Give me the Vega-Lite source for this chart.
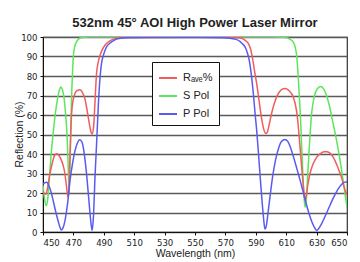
{
  "$schema": "https://vega.github.io/schema/vega-lite/v6.json",
  "autosize": {"type": "none"},
  "padding": {"left": 43, "top": 37, "right": 13, "bottom": 30},
  "width": 304,
  "height": 195,
  "background": "white",
  "title": {
    "text": "532nm 45° AOI High Power Laser Mirror",
    "font": "Liberation Sans",
    "fontSize": 13,
    "fontWeight": "bold",
    "color": "#222",
    "anchor": "middle",
    "baseline": "alphabetic",
    "offset": 12,
    "dy": 20
  },
  "config": {
    "view": {"stroke": "#333", "strokeWidth": 1.2},
    "axis": {
      "labelFont": "Liberation Sans Narrow, DejaVu Sans Condensed, Arial Narrow, sans-serif",
      "labelFontSize": 9.5,
      "labelColor": "#222",
      "titleFont": "Liberation Sans",
      "titleFontSize": 10.5,
      "titleFontWeight": "normal",
      "titleColor": "#222",
      "domainColor": "#111",
      "tickColor": "#111",
      "tickSize": 3
    }
  },
  "data": {
    "values": [
      {"s": "S Pol", "x": 450, "y": 24},
      {"s": "S Pol", "x": 451, "y": 17},
      {"s": "S Pol", "x": 452.2, "y": 13.5},
      {"s": "S Pol", "x": 453.2, "y": 17.5},
      {"s": "S Pol", "x": 454.4, "y": 30},
      {"s": "S Pol", "x": 455.5, "y": 41},
      {"s": "S Pol", "x": 456.6, "y": 50},
      {"s": "S Pol", "x": 458, "y": 60},
      {"s": "S Pol", "x": 459.5, "y": 68},
      {"s": "S Pol", "x": 460.7, "y": 72.5},
      {"s": "S Pol", "x": 461.7, "y": 74.3},
      {"s": "S Pol", "x": 462.7, "y": 73.2},
      {"s": "S Pol", "x": 463.7, "y": 69.5},
      {"s": "S Pol", "x": 464.8, "y": 61},
      {"s": "S Pol", "x": 465.8, "y": 50},
      {"s": "S Pol", "x": 466.5, "y": 36},
      {"s": "S Pol", "x": 467.2, "y": 20},
      {"s": "S Pol", "x": 467.8, "y": 35},
      {"s": "S Pol", "x": 468.3, "y": 52},
      {"s": "S Pol", "x": 468.8, "y": 69},
      {"s": "S Pol", "x": 469.4, "y": 81},
      {"s": "S Pol", "x": 469.9, "y": 89.5},
      {"s": "S Pol", "x": 471, "y": 95.5},
      {"s": "S Pol", "x": 472, "y": 97.5},
      {"s": "S Pol", "x": 473.5, "y": 99},
      {"s": "S Pol", "x": 475.5, "y": 99.8},
      {"s": "S Pol", "x": 480, "y": 100},
      {"s": "S Pol", "x": 520, "y": 100},
      {"s": "S Pol", "x": 560, "y": 100},
      {"s": "S Pol", "x": 600, "y": 100},
      {"s": "S Pol", "x": 608, "y": 99.9},
      {"s": "S Pol", "x": 611, "y": 99.5},
      {"s": "S Pol", "x": 613, "y": 98.6},
      {"s": "S Pol", "x": 614.7, "y": 97.3},
      {"s": "S Pol", "x": 616, "y": 94.5},
      {"s": "S Pol", "x": 617, "y": 89.6},
      {"s": "S Pol", "x": 617.8, "y": 81},
      {"s": "S Pol", "x": 618.7, "y": 69},
      {"s": "S Pol", "x": 619.5, "y": 57},
      {"s": "S Pol", "x": 620.2, "y": 43.5},
      {"s": "S Pol", "x": 621, "y": 29},
      {"s": "S Pol", "x": 621.7, "y": 18},
      {"s": "S Pol", "x": 622.4, "y": 12.7},
      {"s": "S Pol", "x": 623.2, "y": 16},
      {"s": "S Pol", "x": 624.2, "y": 30},
      {"s": "S Pol", "x": 625.2, "y": 43.5},
      {"s": "S Pol", "x": 626.7, "y": 60.6},
      {"s": "S Pol", "x": 628.5, "y": 69.5},
      {"s": "S Pol", "x": 630.5, "y": 73.5},
      {"s": "S Pol", "x": 632.7, "y": 74.6},
      {"s": "S Pol", "x": 634.5, "y": 73.5},
      {"s": "S Pol", "x": 636.5, "y": 70},
      {"s": "S Pol", "x": 638.5, "y": 64.5},
      {"s": "S Pol", "x": 640.5, "y": 57},
      {"s": "S Pol", "x": 642.5, "y": 49.5},
      {"s": "S Pol", "x": 644.3, "y": 42},
      {"s": "S Pol", "x": 646, "y": 34},
      {"s": "S Pol", "x": 647.5, "y": 26},
      {"s": "S Pol", "x": 649, "y": 18},
      {"s": "S Pol", "x": 650, "y": 13},

      {"s": "Rₐᵥₑ%", "x": 450, "y": 21},
      {"s": "Rₐᵥₑ%", "x": 451, "y": 19.5},
      {"s": "Rₐᵥₑ%", "x": 452, "y": 19.5},
      {"s": "Rₐᵥₑ%", "x": 453.2, "y": 23.5},
      {"s": "Rₐᵥₑ%", "x": 454.5, "y": 29.5},
      {"s": "Rₐᵥₑ%", "x": 456, "y": 35},
      {"s": "Rₐᵥₑ%", "x": 457.5, "y": 39},
      {"s": "Rₐᵥₑ%", "x": 458.9, "y": 40.1},
      {"s": "Rₐᵥₑ%", "x": 460.5, "y": 39.2},
      {"s": "Rₐᵥₑ%", "x": 462, "y": 37},
      {"s": "Rₐᵥₑ%", "x": 463.3, "y": 34},
      {"s": "Rₐᵥₑ%", "x": 464.4, "y": 30},
      {"s": "Rₐᵥₑ%", "x": 465.2, "y": 25},
      {"s": "Rₐᵥₑ%", "x": 466, "y": 20},
      {"s": "Rₐᵥₑ%", "x": 466.6, "y": 17.8},
      {"s": "Rₐᵥₑ%", "x": 467.1, "y": 22},
      {"s": "Rₐᵥₑ%", "x": 467.6, "y": 35},
      {"s": "Rₐᵥₑ%", "x": 468.2, "y": 50},
      {"s": "Rₐᵥₑ%", "x": 468.8, "y": 60.7},
      {"s": "Rₐᵥₑ%", "x": 469.8, "y": 67.5},
      {"s": "Rₐᵥₑ%", "x": 471, "y": 71},
      {"s": "Rₐᵥₑ%", "x": 472.5, "y": 72.5},
      {"s": "Rₐᵥₑ%", "x": 474.3, "y": 73},
      {"s": "Rₐᵥₑ%", "x": 476, "y": 71.5},
      {"s": "Rₐᵥₑ%", "x": 477.5, "y": 68.5},
      {"s": "Rₐᵥₑ%", "x": 479, "y": 62.5},
      {"s": "Rₐᵥₑ%", "x": 480.5, "y": 55.5},
      {"s": "Rₐᵥₑ%", "x": 481.5, "y": 51.5},
      {"s": "Rₐᵥₑ%", "x": 482.3, "y": 50.3},
      {"s": "Rₐᵥₑ%", "x": 483.3, "y": 54},
      {"s": "Rₐᵥₑ%", "x": 484.1, "y": 65},
      {"s": "Rₐᵥₑ%", "x": 485.2, "y": 81},
      {"s": "Rₐᵥₑ%", "x": 486.3, "y": 87},
      {"s": "Rₐᵥₑ%", "x": 487.5, "y": 90.5},
      {"s": "Rₐᵥₑ%", "x": 488.7, "y": 93},
      {"s": "Rₐᵥₑ%", "x": 491, "y": 96},
      {"s": "Rₐᵥₑ%", "x": 494, "y": 98},
      {"s": "Rₐᵥₑ%", "x": 498, "y": 99.2},
      {"s": "Rₐᵥₑ%", "x": 505, "y": 99.7},
      {"s": "Rₐᵥₑ%", "x": 550, "y": 99.9},
      {"s": "Rₐᵥₑ%", "x": 575, "y": 99.7},
      {"s": "Rₐᵥₑ%", "x": 578, "y": 99.6},
      {"s": "Rₐᵥₑ%", "x": 581, "y": 99.2},
      {"s": "Rₐᵥₑ%", "x": 583, "y": 98.3},
      {"s": "Rₐᵥₑ%", "x": 585, "y": 96.8},
      {"s": "Rₐᵥₑ%", "x": 586.5, "y": 94},
      {"s": "Rₐᵥₑ%", "x": 587.5, "y": 90.5},
      {"s": "Rₐᵥₑ%", "x": 588.5, "y": 86},
      {"s": "Rₐᵥₑ%", "x": 589.5, "y": 81},
      {"s": "Rₐᵥₑ%", "x": 590.6, "y": 76},
      {"s": "Rₐᵥₑ%", "x": 591.8, "y": 69.5},
      {"s": "Rₐᵥₑ%", "x": 593, "y": 62.5},
      {"s": "Rₐᵥₑ%", "x": 594.2, "y": 56.5},
      {"s": "Rₐᵥₑ%", "x": 595.3, "y": 52.5},
      {"s": "Rₐᵥₑ%", "x": 596.5, "y": 50.5},
      {"s": "Rₐᵥₑ%", "x": 597.5, "y": 51},
      {"s": "Rₐᵥₑ%", "x": 598.5, "y": 54},
      {"s": "Rₐᵥₑ%", "x": 600, "y": 59.5},
      {"s": "Rₐᵥₑ%", "x": 602, "y": 65.5},
      {"s": "Rₐᵥₑ%", "x": 604, "y": 69.8},
      {"s": "Rₐᵥₑ%", "x": 606, "y": 72.3},
      {"s": "Rₐᵥₑ%", "x": 608, "y": 73.5},
      {"s": "Rₐᵥₑ%", "x": 609.5, "y": 73.6},
      {"s": "Rₐᵥₑ%", "x": 611, "y": 73},
      {"s": "Rₐᵥₑ%", "x": 613, "y": 71.5},
      {"s": "Rₐᵥₑ%", "x": 614.5, "y": 69.5},
      {"s": "Rₐᵥₑ%", "x": 616, "y": 65.5},
      {"s": "Rₐᵥₑ%", "x": 617.2, "y": 60},
      {"s": "Rₐᵥₑ%", "x": 618.2, "y": 52},
      {"s": "Rₐᵥₑ%", "x": 619.1, "y": 43.5},
      {"s": "Rₐᵥₑ%", "x": 620, "y": 35},
      {"s": "Rₐᵥₑ%", "x": 621, "y": 26},
      {"s": "Rₐᵥₑ%", "x": 621.8, "y": 19.5},
      {"s": "Rₐᵥₑ%", "x": 622.4, "y": 16.5},
      {"s": "Rₐᵥₑ%", "x": 623.2, "y": 18.5},
      {"s": "Rₐᵥₑ%", "x": 624.2, "y": 24},
      {"s": "Rₐᵥₑ%", "x": 625.5, "y": 29.5},
      {"s": "Rₐᵥₑ%", "x": 627, "y": 33.5},
      {"s": "Rₐᵥₑ%", "x": 629, "y": 37},
      {"s": "Rₐᵥₑ%", "x": 631, "y": 39.2},
      {"s": "Rₐᵥₑ%", "x": 633, "y": 40.5},
      {"s": "Rₐᵥₑ%", "x": 635, "y": 41.2},
      {"s": "Rₐᵥₑ%", "x": 637, "y": 41.2},
      {"s": "Rₐᵥₑ%", "x": 639, "y": 40.3},
      {"s": "Rₐᵥₑ%", "x": 641, "y": 38.3},
      {"s": "Rₐᵥₑ%", "x": 643, "y": 35},
      {"s": "Rₐᵥₑ%", "x": 645, "y": 31},
      {"s": "Rₐᵥₑ%", "x": 646.6, "y": 27.5},
      {"s": "Rₐᵥₑ%", "x": 648, "y": 23.5},
      {"s": "Rₐᵥₑ%", "x": 649.2, "y": 20.5},
      {"s": "Rₐᵥₑ%", "x": 650, "y": 19},

      {"s": "P Pol", "x": 450, "y": 24.5},
      {"s": "P Pol", "x": 451, "y": 25.2},
      {"s": "P Pol", "x": 452.5, "y": 25.5},
      {"s": "P Pol", "x": 454, "y": 23.5},
      {"s": "P Pol", "x": 455.5, "y": 20},
      {"s": "P Pol", "x": 457, "y": 15},
      {"s": "P Pol", "x": 458.5, "y": 10},
      {"s": "P Pol", "x": 460, "y": 5.5},
      {"s": "P Pol", "x": 461.2, "y": 2.3},
      {"s": "P Pol", "x": 462.1, "y": 1},
      {"s": "P Pol", "x": 463, "y": 1.8},
      {"s": "P Pol", "x": 464.5, "y": 6},
      {"s": "P Pol", "x": 466, "y": 13.5},
      {"s": "P Pol", "x": 467.7, "y": 26},
      {"s": "P Pol", "x": 469.5, "y": 35.5},
      {"s": "P Pol", "x": 471, "y": 41.5},
      {"s": "P Pol", "x": 472.7, "y": 45.8},
      {"s": "P Pol", "x": 474.2, "y": 47.3},
      {"s": "P Pol", "x": 475.7, "y": 46},
      {"s": "P Pol", "x": 477, "y": 41},
      {"s": "P Pol", "x": 478.5, "y": 31},
      {"s": "P Pol", "x": 480, "y": 18},
      {"s": "P Pol", "x": 481.3, "y": 6.5},
      {"s": "P Pol", "x": 482.3, "y": 0.8},
      {"s": "P Pol", "x": 483.2, "y": 8},
      {"s": "P Pol", "x": 484.2, "y": 28},
      {"s": "P Pol", "x": 485.3, "y": 46},
      {"s": "P Pol", "x": 486.4, "y": 65},
      {"s": "P Pol", "x": 487.5, "y": 79},
      {"s": "P Pol", "x": 488.5, "y": 86.5},
      {"s": "P Pol", "x": 489.7, "y": 90.5},
      {"s": "P Pol", "x": 491.5, "y": 94.5},
      {"s": "P Pol", "x": 494, "y": 96.8},
      {"s": "P Pol", "x": 497, "y": 98.4},
      {"s": "P Pol", "x": 500, "y": 99.2},
      {"s": "P Pol", "x": 505, "y": 99.6},
      {"s": "P Pol", "x": 520, "y": 99.8},
      {"s": "P Pol", "x": 555, "y": 99.8},
      {"s": "P Pol", "x": 568, "y": 99.6},
      {"s": "P Pol", "x": 574, "y": 99.2},
      {"s": "P Pol", "x": 577, "y": 98.8},
      {"s": "P Pol", "x": 579.5, "y": 97.8},
      {"s": "P Pol", "x": 581.5, "y": 96.3},
      {"s": "P Pol", "x": 583.2, "y": 94.5},
      {"s": "P Pol", "x": 584.6, "y": 91.5},
      {"s": "P Pol", "x": 585.7, "y": 88},
      {"s": "P Pol", "x": 586.7, "y": 83},
      {"s": "P Pol", "x": 587.6, "y": 77},
      {"s": "P Pol", "x": 588.5, "y": 70},
      {"s": "P Pol", "x": 589.5, "y": 61},
      {"s": "P Pol", "x": 590.6, "y": 52},
      {"s": "P Pol", "x": 591.8, "y": 40},
      {"s": "P Pol", "x": 593, "y": 27},
      {"s": "P Pol", "x": 594, "y": 17},
      {"s": "P Pol", "x": 595, "y": 8},
      {"s": "P Pol", "x": 596, "y": 1.5},
      {"s": "P Pol", "x": 597, "y": 3.5},
      {"s": "P Pol", "x": 598, "y": 9.5},
      {"s": "P Pol", "x": 599.5, "y": 19},
      {"s": "P Pol", "x": 601, "y": 28},
      {"s": "P Pol", "x": 603, "y": 37},
      {"s": "P Pol", "x": 605, "y": 43},
      {"s": "P Pol", "x": 607, "y": 46.5},
      {"s": "P Pol", "x": 609.2, "y": 47.5},
      {"s": "P Pol", "x": 611, "y": 46.5},
      {"s": "P Pol", "x": 613, "y": 43},
      {"s": "P Pol", "x": 615, "y": 38},
      {"s": "P Pol", "x": 617, "y": 32.5},
      {"s": "P Pol", "x": 619, "y": 27},
      {"s": "P Pol", "x": 621, "y": 21},
      {"s": "P Pol", "x": 623, "y": 15},
      {"s": "P Pol", "x": 625, "y": 9.5},
      {"s": "P Pol", "x": 627, "y": 5},
      {"s": "P Pol", "x": 629, "y": 1.8},
      {"s": "P Pol", "x": 630.1, "y": 0.8},
      {"s": "P Pol", "x": 631.2, "y": 1.5},
      {"s": "P Pol", "x": 633, "y": 3.8},
      {"s": "P Pol", "x": 635, "y": 7},
      {"s": "P Pol", "x": 637, "y": 10.5},
      {"s": "P Pol", "x": 639, "y": 14},
      {"s": "P Pol", "x": 641, "y": 17.5},
      {"s": "P Pol", "x": 643, "y": 20.5},
      {"s": "P Pol", "x": 645, "y": 23},
      {"s": "P Pol", "x": 647, "y": 24.8},
      {"s": "P Pol", "x": 649, "y": 25.6},
      {"s": "P Pol", "x": 650, "y": 25.6}
    ]
  },
  "mark": {"type": "line", "interpolate": "monotone", "strokeWidth": 1.5, "clip": true},
  "encoding": {
    "x": {
      "field": "x",
      "type": "quantitative",
      "scale": {"domain": [450, 650], "nice": false, "zero": false},
      "axis": {
        "title": "Wavelength (nm)",
        "values": [450, 470, 490, 510, 530, 550, 570, 590, 610, 630, 650],
        "grid": false,
        "labelPadding": 2,
        "titlePadding": 2
      }
    },
    "y": {
      "field": "y",
      "type": "quantitative",
      "scale": {"domain": [0, 100], "nice": false},
      "axis": {
        "title": "Reflection (%)",
        "values": [0, 10, 20, 30, 40, 50, 60, 70, 80, 90, 100],
        "grid": true,
        "gridColor": "#5a5a5a",
        "gridWidth": 1.6,
        "gridOpacity": 1,
        "labelPadding": 3,
        "titleX": -24,
        "titleY": 97,
        "titleAngle": 270,
        "titleAlign": "center",
        "titleBaseline": "middle"
      }
    },
    "color": {
      "field": "s",
      "type": "nominal",
      "scale": {"domain": ["Rₐᵥₑ%", "S Pol", "P Pol"], "range": ["#f25c5c", "#5ce65c", "#5a5af2"]},
      "legend": {
        "title": null,
        "orient": "none",
        "legendX": 109,
        "legendY": 25,
        "fillColor": "white",
        "strokeColor": "#111",
        "padding": 6,
        "symbolType": "stroke",
        "symbolSize": 324,
        "symbolStrokeWidth": 2,
        "rowPadding": 3,
        "labelFont": "Liberation Sans",
        "labelFontSize": 11,
        "labelColor": "#222",
        "labelOffset": 5,
        "labelLimit": 80
      }
    }
  }
}
